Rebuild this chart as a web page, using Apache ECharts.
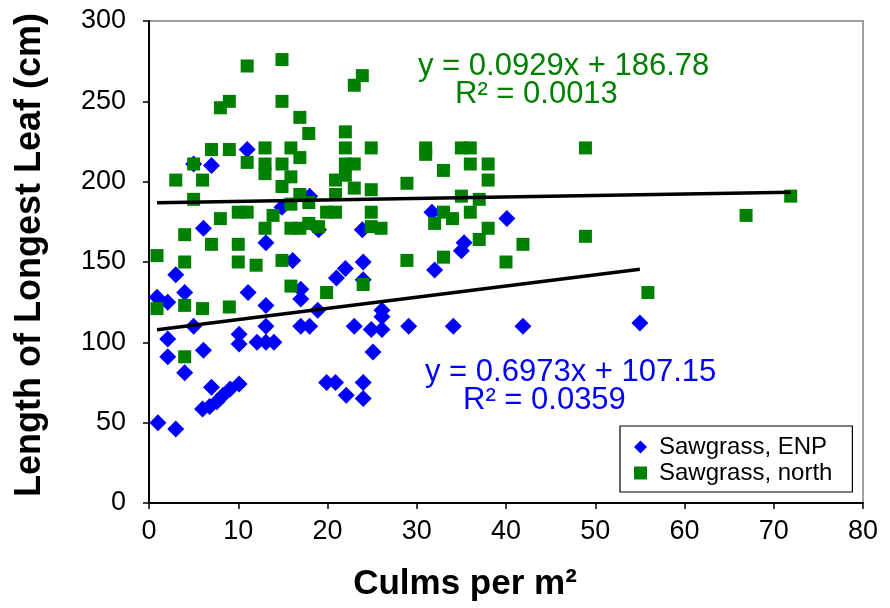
<!DOCTYPE html>
<html><head><meta charset="utf-8">
<script src="https://cdn.jsdelivr.net/npm/echarts@6/dist/echarts.min.js"></script>
<style>html,body{margin:0;padding:0;background:#fff}#c{width:890px;height:608px}</style>
</head><body><div id="c"></div>
<script>
// Sawgrass, ENP (blue diamonds)
const enpX = [11.0,5.0,7.0,18.0,14.9,6.1,13.1,16.1,19.0,23.9,31.7,35.0,35.3,40.1,3.0,0.9,2.1,4.0,11.1,13.1,17.0,17.0,18.9,5.0,13.1,17.0,18.0,2.1,10.1,10.1,12.1,13.1,14.0,6.1,2.1,4.0,7.0,10.1,9.1,8.3,7.6,6.8,6.0,1.0,3.0,24.0,22.0,21.0,24.0,32.0,26.1,26.1,23.0,24.9,26.1,29.1,34.1,25.1,19.9,20.9,24.0,22.1,24.0,41.9,55.0];
const enpY = [220,211,210,191,184,171,162,151,170,170,181,157,162,177,142,128,125,131,131,123,133,127,120,110,110,110,110,102,105,99,100,100,100,95,91,81,72,74,71,67,63,60,58.5,50,46,150,146,140,139,145,120,116,110,108,108,110,110,94,75,75,75,67,65,110,112];
// Sawgrass, north (green squares)
const northX = [11.0,14.9,9.0,8.0,14.9,16.9,17.9,7.0,9.0,13.0,15.9,16.9,11.0,13.0,13.0,14.9,15.9,5.0,3.0,6.0,14.9,16.9,17.9,15.9,5.0,8.0,10.0,11.0,13.9,13.0,15.9,16.9,17.9,19.0,4.0,7.0,10.0,0.9,4.0,10.0,12.0,14.9,23.9,23.0,22.0,22.0,24.9,31.0,31.0,35.0,36.0,36.0,33.0,22.0,23.0,20.9,22.0,23.0,24.9,28.9,20.9,35.0,19.9,20.9,24.9,36.0,33.0,24.9,26.0,32.0,34.0,37.0,28.9,33.0,48.9,38.0,38.0,37.0,38.0,41.9,40.0,48.9,15.9,0.9,4.0,6.0,9.0,4.0,19.9,24.0,55.9,66.9,71.9];
const northY = [272,276,250,246,250,240,230,220,220,221,221,215,212,211,205,211,203,211,201,201,197,192,187,186,189,177,181,181,179,171,171,171,174,172,167,161,161,154,150,150,148,151,266,260,231,221,221,221,217,221,221,211,207,211,211,201,204,196,195,199,192,191,181,181,181,181,181,172,171,174,177,164,151,153,221,211,201,189,171,161,150,166,135,121,123,121,122,91,131,136,131,179,191];
// Trendlines from the chart's equations: [slope, intercept, R²]
const enpTrend = [0.6973, 107.15, 0.0359];
const northTrend = [0.0929, 186.78, 0.0013];
const seriesNames = ['Sawgrass, ENP', 'Sawgrass, north'];
const xTicks = [0,10,20,30,40,50,60,70,80];
const yTicks = [0,50,100,150,200,250,300];

function pairs(xs, ys){ return xs.map((x,i)=>[x, ys[i]]); }
function trendLine(xs, t){
  const lo = Math.min(...xs), hi = Math.max(...xs);
  return [[lo, t[0]*lo + t[1]], [hi, t[0]*hi + t[1]]];
}
function eqText(t){ return 'y = ' + t[0] + 'x + ' + t[1]; }
function r2Text(t){ return 'R\u00b2 = ' + t[2].toFixed(4); }

const FONT = '"Liberation Sans", Arial, sans-serif';
const chart = echarts.init(document.getElementById('c'), null, {renderer:'canvas'});
chart.setOption({
  animation: false,
  backgroundColor: '#fff',
  grid: {left:149, top:21, right:27, bottom:105, show:true, borderColor:'#a0a0a0', borderWidth:2, backgroundColor:'transparent'},
  xAxis: {
    type:'value', min:xTicks[0], max:xTicks[xTicks.length-1], interval:xTicks[1]-xTicks[0],
    axisLine:{show:true, onZero:false, lineStyle:{color:'#000', width:2}},
    axisTick:{show:true, inside:false, length:6, lineStyle:{color:'#000', width:1.5}},
    splitLine:{show:false},
    axisLabel:{color:'#000', fontSize:27, fontFamily:FONT, margin:15}
  },
  yAxis: {
    type:'value', min:yTicks[0], max:yTicks[yTicks.length-1], interval:yTicks[1]-yTicks[0],
    axisLine:{show:true, onZero:false, lineStyle:{color:'#000', width:2}},
    axisTick:{show:true, inside:false, length:6, lineStyle:{color:'#000', width:1.5}},
    splitLine:{show:false},
    axisLabel:{color:'#000', fontSize:27, fontFamily:FONT, margin:23}
  },
  legend: {
    show:true, orient:'vertical', left:620, top:426,
    padding:[9,20,7,14], itemGap:2, itemWidth:13, itemHeight:13,
    backgroundColor:'#fff', borderColor:'#000', borderWidth:1.2,
    textStyle:{color:'#000', fontSize:24, fontFamily:FONT, lineHeight:24, padding:[0,0,0,7]},
    data:[{name:seriesNames[0], icon:'diamond'},{name:seriesNames[1], icon:'rect'}]
  },
  series: [
    {name:seriesNames[0], type:'scatter', symbol:'diamond', symbolSize:17, data:pairs(enpX, enpY),
     itemStyle:{color:'#0000ff', opacity:1}, z:2},
    {name:seriesNames[1], type:'scatter', symbol:'rect', symbolSize:13, data:pairs(northX, northY),
     itemStyle:{color:'#008000', opacity:1}, z:3},
    {name:'trendENP', type:'line', data:trendLine(enpX, enpTrend), symbol:'none',
     lineStyle:{color:'#000', width:3.5}, z:5, silent:true},
    {name:'trendNorth', type:'line', data:trendLine(northX, northTrend), symbol:'none',
     lineStyle:{color:'#000', width:3.5}, z:5, silent:true}
  ],
  graphic: [
    {type:'text', left:418, top:51, z:10, style:{text:eqText(northTrend), fill:'#008000', fontSize:31, fontFamily:FONT}},
    {type:'text', left:455, top:79, z:10, style:{text:r2Text(northTrend), fill:'#008000', fontSize:31, fontFamily:FONT}},
    {type:'text', left:425, top:357, z:10, style:{text:eqText(enpTrend), fill:'#0000ff', fontSize:31, fontFamily:FONT}},
    {type:'text', left:463, top:385, z:10, style:{text:r2Text(enpTrend), fill:'#0000ff', fontSize:31, fontFamily:FONT}},
    {type:'text', x:465, y:584, z:10, style:{text:'Culms per m\u00b2', fill:'#000', fontSize:35, fontWeight:'bold', fontFamily:FONT, align:'center', verticalAlign:'middle'}},
    {type:'text', x:30, y:255, rotation:Math.PI/2, z:10, style:{text:'Length of Longest Leaf (cm)', fill:'#000', fontSize:36, fontWeight:'bold', fontFamily:FONT, align:'center', verticalAlign:'middle'}}
  ]
});
</script>
</body></html>
